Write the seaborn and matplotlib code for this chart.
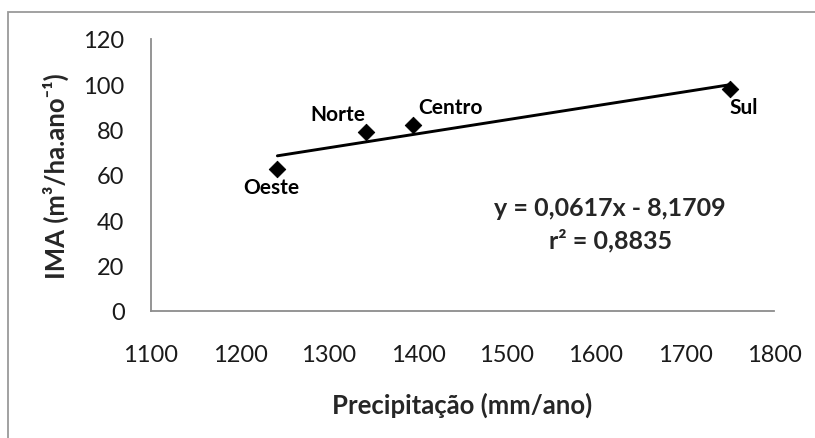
import numpy as np
import pandas as pd
import matplotlib
matplotlib.use("Agg")
import matplotlib.pyplot as plt
from matplotlib.patches import Rectangle
import seaborn as sns

# Data
regioes = ["Oeste", "Norte", "Centro", "Sul"]
precipitacao = [1242, 1342, 1394, 1751]
ima = [62.6, 79.1, 82.0, 97.9]

# Linear trend reported on the chart
coef_a = 0.0617
coef_b = -8.1709
r2 = 0.8835

x_ticks = [1100, 1200, 1300, 1400, 1500, 1600, 1700, 1800]
y_ticks = [0, 20, 40, 60, 80, 100, 120]

sns.set_style("white")
plt.rcParams["font.family"] = ["Lato", "DejaVu Sans"]

df = pd.DataFrame({"regiao": regioes, "precipitacao": precipitacao, "ima": ima})
xs = np.array([min(precipitacao), max(precipitacao)])
trend = pd.DataFrame({"precipitacao": xs, "ima": coef_a * xs + coef_b})

fig = plt.figure(figsize=(8.15, 4.39), dpi=100)
ax = fig.add_axes([151 / 815, 1 - 312 / 439, 623 / 815, 272 / 439])

# Outer chart-area frame
fig.patches.append(Rectangle((8 / 815, -0.05), 1.1, (1 - 13 / 439) + 0.05,
                             transform=fig.transFigure, fill=False,
                             edgecolor="#9a9a9a", linewidth=1.3, zorder=0))

sns.lineplot(data=trend, x="precipitacao", y="ima", ax=ax, color="black",
             linewidth=2.1, zorder=2)
sns.scatterplot(data=df, x="precipitacao", y="ima", ax=ax, marker="D",
                color="black", s=70, edgecolor="black", zorder=3)

offsets = {"Oeste": (-6, -18), "Norte": (-29, 18), "Centro": (38, 18), "Sul": (13, -18)}
for r, xv, yv in zip(regioes, precipitacao, ima):
    ax.annotate(r, (xv, yv), xytext=offsets[r], textcoords="offset pixels",
                ha="center", va="center", fontsize=15, fontweight="bold",
                color="black")

ax.text(0.737, 0.382, f"y = {coef_a:.4f}x - {abs(coef_b):.4f}".replace(".", ","),
        transform=ax.transAxes, ha="center", va="center", fontsize=18,
        fontweight="bold")
ax.text(0.737, 0.261, f"r² = {r2:.4f}".replace(".", ","),
        transform=ax.transAxes, ha="center", va="center", fontsize=18,
        fontweight="bold")

ax.set_xlim(x_ticks[0], x_ticks[-1])
ax.set_ylim(y_ticks[0], y_ticks[-1])
ax.set_xticks(x_ticks)
ax.set_yticks(y_ticks)
ax.tick_params(axis="both", direction="out", length=7, width=1.3,
               color="#8c8c8c", labelsize=17, labelcolor="#1a1a1a")
ax.tick_params(axis="y", pad=12)
ax.tick_params(axis="x", pad=17)
for side in ["top", "right"]:
    ax.spines[side].set_visible(False)
for side in ["left", "bottom"]:
    ax.spines[side].set_color("#8c8c8c")
    ax.spines[side].set_linewidth(1.3)

ax.set_xlabel("Precipitação (mm/ano)", fontsize=18.5, fontweight="bold", labelpad=19)
ax.set_ylabel("IMA (m³/ha.ano⁻¹)", fontsize=18.5, fontweight="bold", labelpad=10)

fig.savefig("out.png", dpi=100)
